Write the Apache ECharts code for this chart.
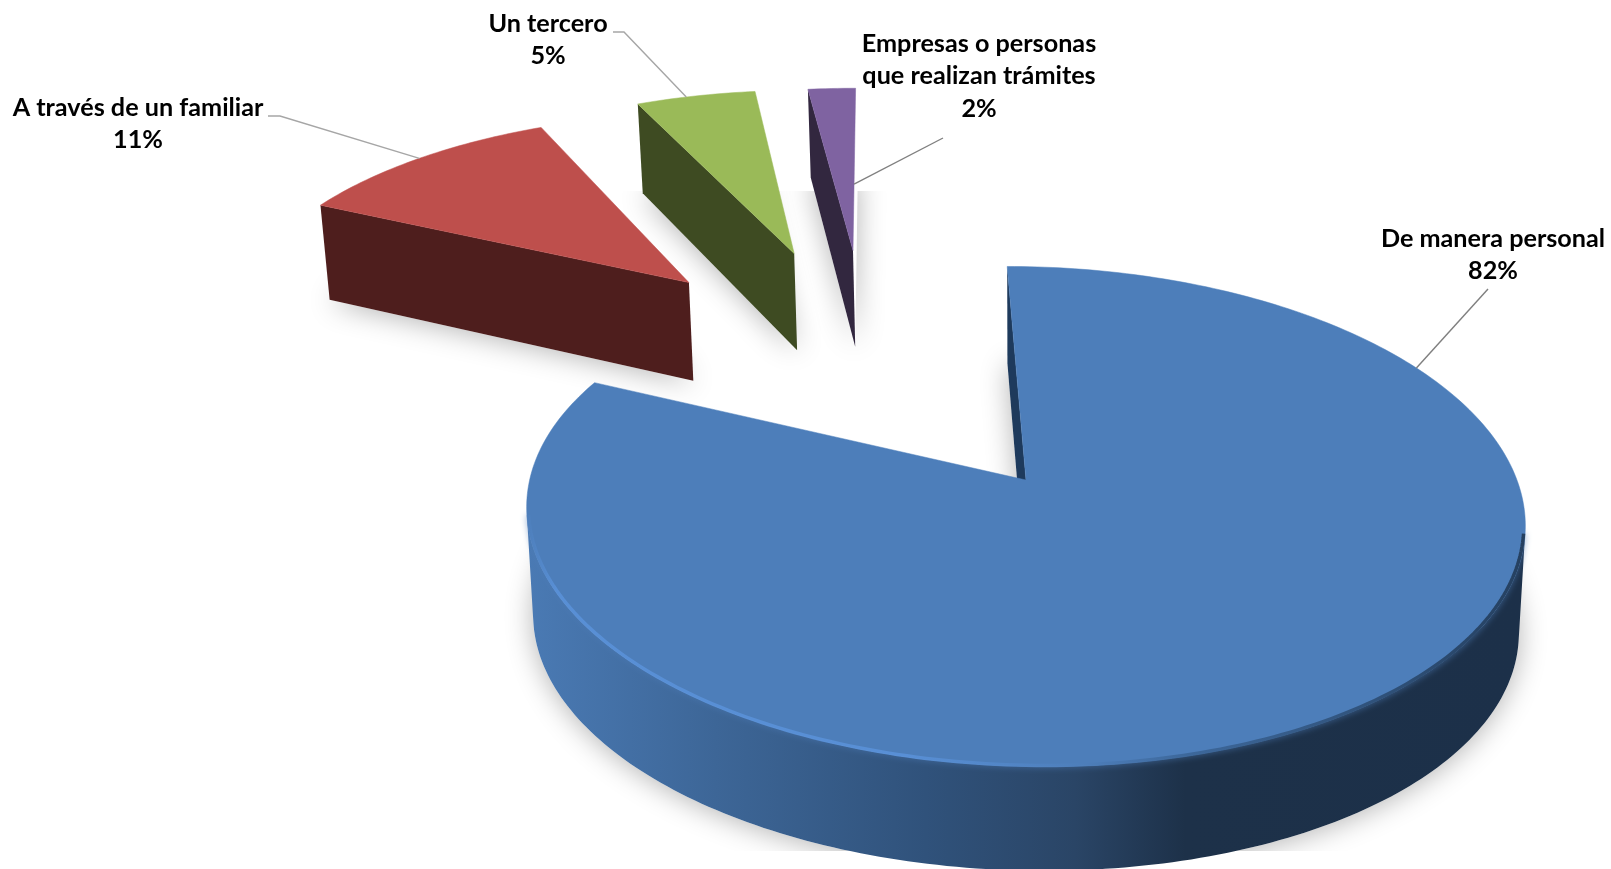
<!DOCTYPE html>
<html>
<head>
<meta charset="utf-8">
<title>Forma de realizar el trámite</title>
<style>html,body{margin:0;padding:0;background:#fff}#chart{width:1611px;height:869px}</style>
<script src="https://cdn.jsdelivr.net/npm/echarts@6/dist/echarts.min.js"></script>
</head>
<body>
<div id="chart"></div>
<script>
// Shares per channel, in percent
const categories = ['De manera personal', 'A través de un familiar', 'Un tercero', 'Empresas o personas\nque realizan trámites'];
const shares = [82, 11, 5, 2];

// Slice colours
const topColors = ['#4D7EBA', '#BE4F4C', '#9ABA58', '#7F63A1'];
const wallColors = ['#1E3A5C', '#4E1E1D', '#3E4B22', '#32273F'];

// Label centres and leader routes, in pixels
const labelCentres = [[1493, 255], [138, 124], [548, 40], [979, 76]];
const leaderStarts = [[[1488, 289]], [[268, 116], [280, 116]], [[613, 32], [624, 32]], [[943, 138]]];
// Where each leader lands on its slice: fraction of the sweep, fraction of the radius
const leaderLanding = [[0.206, 1], [0.5, 1], [0.42, 1], [1, 0.38]];
// Fine placement of each exploded slice, in pixels
const sliceNudge = [[0, 0], [1, 0], [-6, -1], [-2, 0]];

// Projection of the pie plane on screen
const CX = 1026, CY = 480, RX = 494, RY = 244.5, PERSPECTIVE = 0.146, SHEAR = 9.2;
const DEPTH = 108, BASE_SHRINK = 0.013, EXPLODE = 0.59, START_ANGLE = -2.5;

const rad = d => d * Math.PI / 180;
const total = shares.reduce((a, b) => a + b, 0);

function project(u, v, z) {
  const s = 1 / (1 - PERSPECTIVE * v);
  const k = 1 - BASE_SHRINK * z;
  return [
    CX + RX * u * s * k,
    CY + (RY * v * s + SHEAR * u * s) * k + DEPTH * Math.min(s, 1) * z
  ];
}

// Angular spans and exploded positions follow from the shares
const spans = [];
shares.reduce((from, val) => {
  const to = from + val / total * 360;
  spans.push([from, to]);
  return to;
}, START_ANGLE);
const pull = i => {
  const mid = rad((spans[i][0] + spans[i][1]) / 2);
  return [Math.sin(mid), -Math.cos(mid)];
};
const pivot = pull(0).map(c => -EXPLODE * c);
const hubOf = i => pull(i).map((c, n) => pivot[n] + EXPLODE * c);
const nudged = (i, p) => [p[0] + sliceNudge[i][0], p[1] + sliceNudge[i][1]];

const rimPoint = (i, deg, z, r = 1) => {
  const hub = hubOf(i);
  return nudged(i, project(hub[0] + r * Math.sin(rad(deg)), hub[1] - r * Math.cos(rad(deg)), z));
};
const hubPoint = (i, z) => {
  const hub = hubOf(i);
  return nudged(i, project(hub[0], hub[1], z));
};
const arc = (i, z, r) => {
  const [a, b] = spans[i];
  const n = Math.max(8, Math.ceil(b - a));
  const pts = [];
  for (let j = 0; j <= n; j++) pts.push(rimPoint(i, a + (b - a) * j / n, z, r));
  return pts;
};
const area = pts => pts.reduce((acc, p, j) => {
  const q = pts[(j + 1) % pts.length];
  return acc + p[0] * q[1] - q[0] * p[1];
}, 0) / 2;

// Part of the outer wall that faces the viewer, with the rim just inside it
function frontWall(i) {
  const top = arc(i, 0), bottom = arc(i, 1), inner = arc(i, 0, 0.997);
  const upper = [], lower = [], bevel = [];
  for (let j = 0; j < top.length - 1; j++) {
    if (area([top[j], top[j + 1], bottom[j + 1], bottom[j]]) < 0) {
      if (!upper.length) { upper.push(top[j]); lower.push(bottom[j]); bevel.push(inner[j]); }
      upper.push(top[j + 1]);
      lower.push(bottom[j + 1]);
      bevel.push(inner[j + 1]);
    }
  }
  return { upper, lower, bevel };
}

const wallGradient = {
  type: 'linear', global: true, x: 526, y: 0, x2: 1525, y2: 0,
  colorStops: [
    { offset: 0, color: '#4A7AB4' }, { offset: 0.19, color: '#3D6697' },
    { offset: 0.4, color: '#30527B' }, { offset: 0.55, color: '#2A4566' },
    { offset: 0.66, color: '#1D3149' }, { offset: 1, color: '#1C3049' }
  ]
};
const bevelStops = [
  { offset: 0, color: '#4D7EBA' }, { offset: 0.03, color: '#5A92DA' }, { offset: 0.38, color: '#5A92DA' },
  { offset: 0.56, color: '#4D7EBA' }, { offset: 0.66, color: '#3A6496' },
  { offset: 1, color: '#1E3550' }
];
const bevelGradient = { type: 'linear', global: true, x: 526, y: 0, x2: 1525, y2: 0, colorStops: bevelStops };

function renderShadow(params, api) {
  const i = api.value(0);
  const floor = [hubPoint(i, 1), ...arc(i, 1)];
  return {
    type: 'polygon',
    shape: { points: floor },
    style: { fill: '#fff', shadowColor: 'rgba(0,0,0,0.3)', shadowBlur: 28, shadowOffsetY: 2 },
    clipPath: { type: 'rect', shape: { x: 0, y: 191, width: 1611, height: 660 } },
    silent: true
  };
}

function renderSlice(params, api) {
  const i = api.value(0);
  const [a] = spans[i];
  const children = [];
  const hubTop = hubPoint(i, 0), hubBase = hubPoint(i, 1);
  children.push({
    type: 'polygon',
    shape: { points: [rimPoint(i, a, 0), hubTop, hubBase, rimPoint(i, a, 1)] },
    style: { fill: wallColors[i] }
  });
  const wall = frontWall(i);
  if (wall.upper.length) {
    children.push({
      type: 'polygon',
      shape: { points: wall.upper.concat(wall.lower.slice().reverse()) },
      style: { fill: wallGradient }
    });
  }
  children.push({
    type: 'polygon',
    shape: { points: [hubTop, ...arc(i, 0)] },
    style: { fill: topColors[i], stroke: topColors[i], lineWidth: 0.5 }
  });
  if (wall.bevel.length) {
    children.push({
      type: 'polyline',
      shape: { points: wall.bevel },
      style: { fill: null, stroke: bevelGradient, lineWidth: 3.5, opacity: 0.85, shadowColor: 'rgba(78,125,185,0.9)', shadowBlur: 6 }
    });
  }
  return { type: 'group', children };
}

function renderLabel(params, api) {
  const i = api.value(0);
  const [a, b] = spans[i];
  const [frac, radius] = leaderLanding[i];
  const landing = rimPoint(i, a + (b - a) * frac, 0, radius);
  return {
    type: 'group',
    children: [
      {
        type: 'polyline',
        shape: { points: [...leaderStarts[i], landing] },
        style: { fill: null, stroke: i === 1 || i === 2 ? '#A6A6A6' : '#808080', lineWidth: 1.4 },
        silent: true
      },
      {
        type: 'text',
        x: labelCentres[i][0],
        y: labelCentres[i][1],
        style: {
          text: categories[i] + '\n' + api.value(1) + '%',
          fontFamily: 'Lato',
          fontWeight: 'bold',
          fontSize: 25.2,
          lineHeight: 32.5,
          fill: '#000',
          align: 'center',
          verticalAlign: 'middle'
        }
      }
    ]
  };
}

const seriesData = shares.map((val, i) => ({ name: categories[i].replace('\n', ' '), value: [i, val] }));
const chart = echarts.init(document.getElementById('chart'), null, { renderer: 'canvas' });
chart.setOption({
  animation: false,
  backgroundColor: '#fff',
  series: [
    { type: 'custom', coordinateSystem: 'none', renderItem: renderShadow, data: seriesData, z: 1, silent: true },
    { type: 'custom', coordinateSystem: 'none', renderItem: renderSlice, data: seriesData, z: 2, silent: true },
    { type: 'custom', coordinateSystem: 'none', renderItem: renderLabel, data: seriesData, z: 3, silent: true }
  ]
});
</script>
</body>
</html>
